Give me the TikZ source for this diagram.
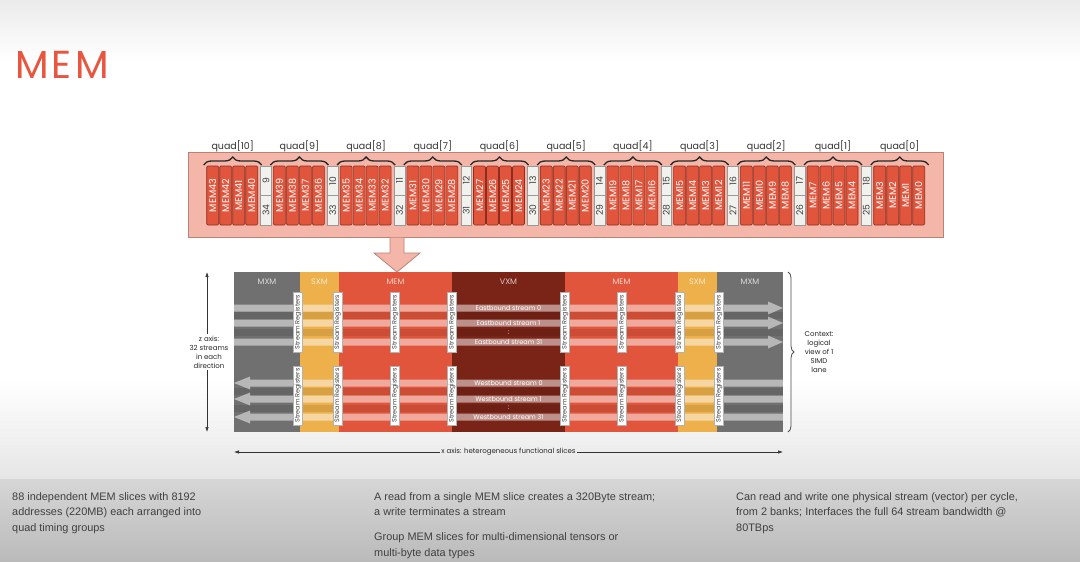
\documentclass[tikz,border=0pt]{standalone}
\usepackage{fontspec}
\setmainfont{Liberation Sans}
\newfontfamily\slidefont{Poppins}
\newfontfamily\titlefont[LetterSpace=8]{Poppins}
\usetikzlibrary{arrows.meta,calc,decorations.pathreplacing,positioning}
\definecolor{titlered}{HTML}{E8563F}
\definecolor{barpink}{HTML}{F4B6A8}
\definecolor{baredge}{HTML}{B98276}
\definecolor{memred}{HTML}{E0553C}
\definecolor{memedge}{HTML}{8A2F20}
\definecolor{sepfill}{HTML}{F1F1EE}
\definecolor{mxmgray}{HTML}{707070}
\definecolor{sxmamber}{HTML}{EDB04A}
\definecolor{vxmred}{HTML}{7A2418}
\definecolor{bodytext}{HTML}{404040}
\newcommand{\ArrTip}{Latex[length=5,width=3.5]}
\newcommand{\fs}[1]{\fontsize{#1}{#1}\selectfont}
\tikzset{
 slice/.style={draw=memedge,line width=.6,fill=memred,rounded corners=1.2pt,rotate=90,minimum width=59,minimum height=12,inner sep=0,text=white,font=\slidefont\fs{9.6}},
 sepbox/.style={draw=black!40,line width=.6,fill=sepfill,rotate=90,minimum width=29.5,minimum height=10.7,inner sep=0,text=black!75,font=\slidefont\fs{9.2}},
 quadlbl/.style={text=black!80,font=\slidefont\fs{9.5},inner sep=0},
 qbrace/.style={decorate,decoration={brace,amplitude=8},line width=1.3,black!85},
 hdr/.style={text=white,text opacity=.75,font=\slidefont\fs{8}},
 stream/.style={fill=white,opacity=.5},
 band/.style={fill=black,opacity=.09},
 regbox/.style={draw=black!30,line width=.4,fill=white,rotate=90,minimum height=9,inner sep=0,text=black!75,font=\slidefont\fs{6.4}},
 flowlbl/.style={text=white,font=\slidefont\fs{6.5},inner sep=0},
 note/.style={align=center,text=black!85,font=\slidefont\fontsize{7}{9}\selectfont,inner sep=1.5},
 body/.style={anchor=north west,align=left,inner sep=0,text=bodytext,font=\fontsize{10.9}{15.5}\selectfont}
}
\begin{document}
\begin{tikzpicture}[x=1pt,y=-1pt]
\useasboundingbox (0,0) rectangle (1080,562);
% backdrop
\fill[white] (0,0) rectangle (1080,562);
\shade[top color=black!8,bottom color=white] (0,0) rectangle (1080,60);
\shade[top color=white,bottom color=black!10] (0,380) rectangle (1080,479);
\shade[top color=black!16,bottom color=black!27] (0,479) rectangle (1080,562);
\node[anchor=base west,inner sep=0,text=titlered,font=\titlefont\fs{39}] (title) at (15,78) {MEM};

% quad bar
\node[draw=baredge,line width=.8,fill=barpink,minimum width=755,minimum height=85,inner sep=0] (bar) at (565.5,194.5) {};
\foreach \q in {0,...,10}{
 \pgfmathsetmacro{\gx}{206.7+66.7*(10-\q)}
 \foreach \j in {0,...,3}{\pgfmathtruncatemacro{\m}{4*\q+3-\j}\node[slice] (mem\m) at (\gx+13*\j+6,195.5) {MEM\m};}
 \draw[qbrace] (\gx-3,165) -- (\gx+55,165);
 \node[quadlbl] (qd\q) at (\gx+26,146) {quad[\q]};
}
\foreach \i in {0,...,9}{
 \pgfmathsetmacro{\sx}{206.7+66.7*\i+59.35}
 \pgfmathtruncatemacro{\a}{9+\i}\pgfmathtruncatemacro{\b}{34-\i}
 \node[sepbox] (sepT\i) at (\sx,180.75) {\a};
 \node[sepbox] (sepB\i) at (\sx,210.25) {\b};
}
\fill[barpink] (390,237.5) -- (390,253) -- (374,253) -- (397,272) -- (420,253) -- (404,253) -- (404,237.5) -- cycle;
\draw[baredge,line width=.8] (390,237.5) -- (390,253) -- (374,253) -- (397,272) -- (420,253) -- (404,253) -- (404,237.5);

% logical view of one lane
\foreach \a/\b/\c/\t/\n in {234/300/mxmgray/MXM/mxmW,300/339/sxmamber/SXM/sxmW,339/452/memred/MEM/memW,452/565/vxmred/VXM/vxm,565/678/memred/MEM/memE,678/717/sxmamber/SXM/sxmE,717/783/mxmgray/MXM/mxmE}{
 \fill[\c] (\a,272) rectangle (\b,432);
 \node[hdr] (hd\n) at ({(\a+\b)/2},282) {\t};
}
\foreach \y in {315.5,332.5,391,408}{\fill[band] (234,\y-3.5) rectangle (783,\y+3.5);}
\foreach \y in {308,323,342}{\fill[stream] (234,\y-3.5) -- (768,\y-3.5) -- (768,\y-6.5) -- (783,\y) -- (768,\y+6.5) -- (768,\y+3.5) -- (234,\y+3.5) -- cycle;}
\foreach \y in {383,399,417}{\fill[stream] (783,\y-3.5) -- (250,\y-3.5) -- (250,\y-6.5) -- (234,\y) -- (250,\y+6.5) -- (250,\y+3.5) -- (783,\y+3.5) -- cycle;}
\node[flowlbl] (eb0) at (508.5,308) {Eastbound stream 0};
\node[flowlbl] (eb1) at (508.5,323) {Eastbound stream 1};
\node[flowlbl] (ebd) at (508.5,332.5) {:};
\node[flowlbl] (eb31) at (508.5,342) {Eastbound stream 31};
\node[flowlbl] (wb0) at (508.5,383) {Westbound stream 0};
\node[flowlbl] (wb1) at (508.5,399) {Westbound stream 1};
\node[flowlbl] (wbd) at (508.5,408) {:};
\node[flowlbl] (wb31) at (508.5,417) {Westbound stream 31};
\foreach \x [count=\k] in {298,337.5,395,452,565,622,679.5,719}{
 \node[regbox,minimum width=60] (regT\k) at (\x,322) {Stream Registers};
 \node[regbox,minimum width=59] (regB\k) at (\x,395.5) {Stream Registers};
}

% axes and context
\coordinate (ztop) at (207,272); \coordinate (zbot) at (207,432);
\node[note] (zlbl) at (209,352) {z axis:\\32 streams\\in each\\direction};
\draw[-{\ArrTip},black!80,line width=.6] (zlbl.north -| ztop) -- (ztop);
\draw[-{\ArrTip},black!80,line width=.6] (zlbl.south -| zbot) -- (zbot);
\draw[decorate,decoration={brace,amplitude=6},black!70,line width=.8] (788,272) -- (788,432);
\node[note] (ctx) at (819,352) {Context:\\logical\\view of 1\\SIMD\\lane};
\coordinate (xl) at (234,452); \coordinate (xr) at (783,452);
\node[note] (xlbl) at (508.5,452) {x axis: heterogeneous functional slices};
\draw[-{\ArrTip},black!80,line width=.6] (xlbl.west) -- (xl);
\draw[-{\ArrTip},black!80,line width=.6] (xlbl.east) -- (xr);

% notes below
\node[body] (col1) at (12,492) {88 independent MEM slices with 8192\\addresses (220MB) each arranged into\\quad timing groups};
\node[body] (col2) at (374,492) {A read from a single MEM slice creates a 320Byte stream;\\a write terminates a stream\\[9.5pt]Group MEM slices for multi-dimensional tensors or\\multi-byte data types};
\node[body] (col3) at (736,492) {Can read and write one physical stream (vector) per cycle,\\from 2 banks; Interfaces the full 64 stream bandwidth @\\80TBps};
\end{tikzpicture}
\end{document}
